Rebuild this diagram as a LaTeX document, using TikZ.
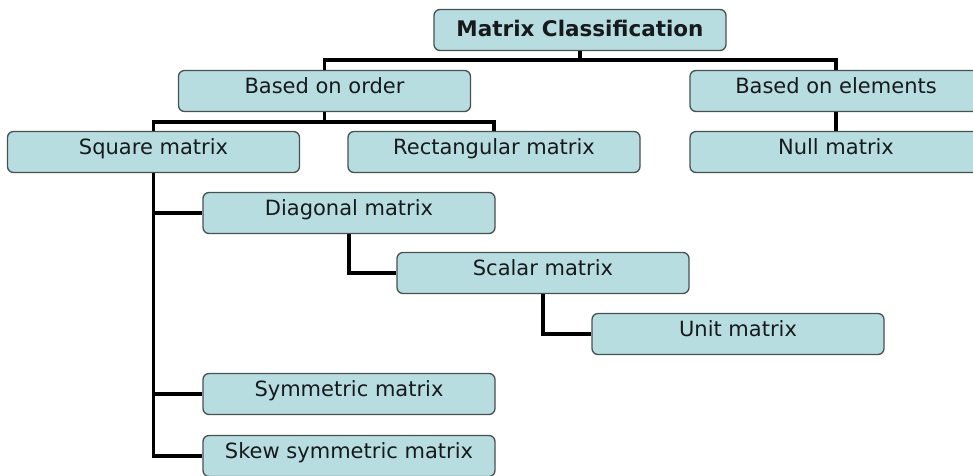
\documentclass[tikz,border=0pt]{standalone}
\usepackage{fontspec}
\setmainfont{DejaVu Sans}
\usepackage{tikz}
\definecolor{boxfill}{RGB}{184,221,224}
\definecolor{boxline}{RGB}{72,80,82}
\definecolor{boxtext}{RGB}{22,26,28}
\tikzset{
  mbox/.style={draw=boxline,line width=1.3pt,fill=boxfill,rounded corners=6pt,
    minimum width=292pt,minimum height=41pt,inner sep=0pt,text=boxtext,
    text height=14pt,text depth=10pt,font=\fontsize{21}{25}\selectfont},
  link/.style={line width=3.5pt}
}

\begin{document}
\begin{tikzpicture}[x=1pt,y=-1pt]
\useasboundingbox (0,0) rectangle (973,475);
\clip (0,0) rectangle (973,475);

\node[mbox,text depth=2pt,font=\fontsize{21.5}{25}\selectfont\bfseries] (mc) at (580,30) {Matrix Classification};
\node[mbox] (order) at (324.5,91) {Based on order};
\node[mbox] (elem) at (836,91) {Based on elements};
\node[mbox] (square) at (153.5,152) {Square matrix};
\node[mbox] (rect) at (494,152) {Rectangular matrix};
\node[mbox] (null) at (836,152) {Null matrix};
\node[mbox] (diag) at (349,213) {Diagonal matrix};
\node[mbox] (scalar) at (543,273) {Scalar matrix};
\node[mbox] (unit) at (738,334) {Unit matrix};
\node[mbox] (sym) at (349,394) {Symmetric matrix};
\node[mbox] (skew) at (349,456) {Skew symmetric matrix};

\draw[link] (mc.south) -- ++(0,9) coordinate (bus1);
\draw[link] (order.north) |- (bus1) -| (elem.north);
\draw[link] (order.south) -- ++(0,10) coordinate (bus2);
\draw[link] (square.north) |- (bus2) -| (rect.north);
\draw[link] (elem.south) -- (null.north);
\draw[link] (square.south) |- (diag.west);
\draw[link] (square.south) |- (sym.west);
\draw[link] (square.south) |- (skew.west);
\draw[link] (diag.south) |- (scalar.west);
\draw[link] (scalar.south) |- (unit.west);
\end{tikzpicture}
\end{document}
